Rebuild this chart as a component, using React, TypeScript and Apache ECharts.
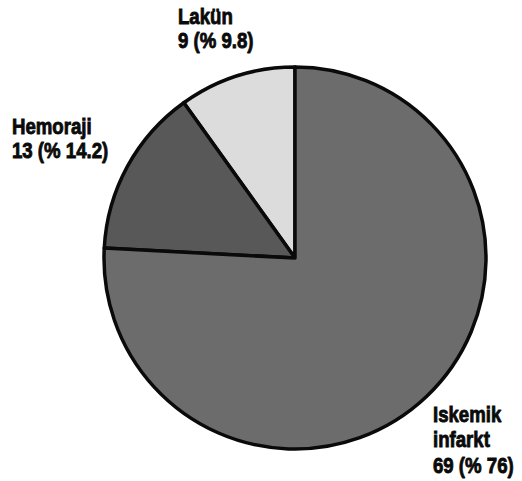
import React, { useEffect, useRef } from "react";
import * as echarts from "echarts";

// Stroke subtypes: patient counts and the printed percentages
const categories = ["Lakün", "Hemoraji", "Iskemik\ninfarkt"];
const counts = [9, 13, 69];
const percents = ["9.8", "14.2", "76"];

const sliceColors = ["#dcdcdc", "#585858", "#6c6c6c"];
// top-left anchor and line spacing of each label block, in px
const labelAnchors = [
  { x: 178, y: 4, lh: 24 },
  { x: 12, y: 114, lh: 24 },
  { x: 433, y: 401, lh: 25.5 },
];

export default function App() {
  const ref = useRef<HTMLDivElement>(null);

  useEffect(() => {
    if (!ref.current) return;
    const chart = echarts.init(ref.current, undefined, { renderer: "svg" });
    const font = '"Liberation Sans", Arial, sans-serif';
    const labels = categories.map((name, i) => ({
      type: "text",
      x: labelAnchors[i].x,
      y: labelAnchors[i].y,
      scaleX: 0.81,
      z: 10,
      style: {
        text: `${name}\n${counts[i]} (% ${percents[i]})`,
        font: `bold 23px ${font}`,
        lineHeight: labelAnchors[i].lh,
        fill: "#0a0a0a",
        stroke: "#0a0a0a",
        lineWidth: 0.9,
        align: "left",
        verticalAlign: "top",
      },
    }));
    chart.setOption({
      animation: false,
      backgroundColor: "#ffffff",
      series: [
        {
          type: "pie",
          center: [295, 258],
          radius: 191,
          startAngle: 90,
          clockwise: false,
          silent: true,
          data: categories.map((name, i) => ({
            name,
            value: counts[i],
            itemStyle: { color: sliceColors[i] },
          })),
          itemStyle: { borderColor: "#0a0a0a", borderWidth: 3.5 },
          label: { show: false },
          labelLine: { show: false },
        },
      ],
      graphic: labels,
    });
    return () => chart.dispose();
  }, []);

  return (
    <div
      ref={ref}
      style={{ position: "fixed", left: 0, top: 0, width: 522, height: 481 }}
    />
  );
}
